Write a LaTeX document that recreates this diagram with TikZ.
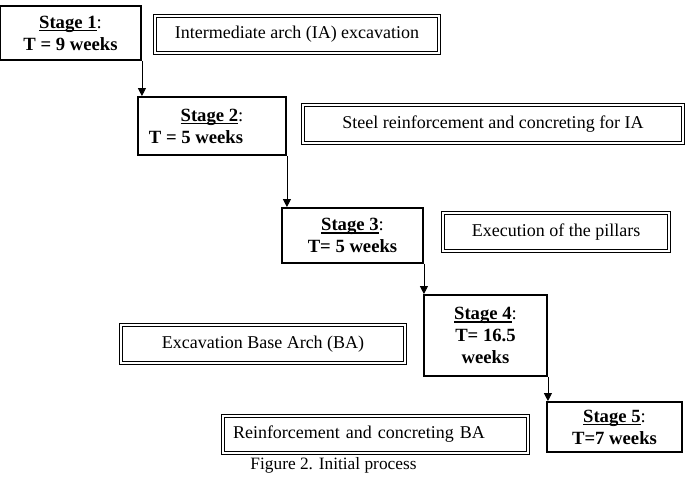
\documentclass[tikz,border=0pt]{standalone}
\usepackage{fontspec}
\setmainfont{Liberation Serif}
\usetikzlibrary{arrows.meta}
\newcommand\stageul[1]{\setbox0\hbox{#1}\rlap{\vrule width\wd0 height -1.3pt depth 2.2pt}\box0}

\begin{document}
\begin{tikzpicture}[x=0.75pt,y=-0.75pt,
  stage/.style={draw,line width=1.4pt,inner sep=0pt,align=center,font=\fontsize{14}{16.5}\selectfont\bfseries},
  task/.style={draw,line width=0.6pt,double=white,double distance=1.2pt,inner sep=0pt,align=center,font=\fontsize{13.5}{16}\selectfont}]
       \useasboundingbox (0,0) rectangle (689,478);
       \node[stage,minimum width=105.75pt,minimum height=40.5pt] (1) at (70.5,33) {\stageul{Stage 1}\textmd{:}\\T = 9 weeks};
       \node[stage,minimum width=111pt,minimum height=43.5pt] (2) at (212,126) {\stageul{Stage 2}\textmd{:}\\T = 5 weeks\rule{24pt}{0pt}};
       \node[stage,minimum width=105.75pt,minimum height=41.25pt] (3) at (352.5,235.5) {\stageul{Stage 3}\textmd{:}\\T= 5 weeks};
       \node[stage,minimum width=92.25pt,minimum height=60.75pt] (4) at (485.5,335.5) {\stageul{Stage 4}\textmd{:}\\T= 16.5\\weeks};
       \node[stage,minimum width=101.25pt,minimum height=37.5pt] (5) at (614.5,427) {\stageul{Stage 5}\textmd{:}\\T=7 weeks};

       \node[task,minimum width=213pt,minimum height=27.75pt] (ia) at (297,34.5) {Intermediate arch (IA) excavation};
       \node[task,minimum width=285pt,minimum height=28.5pt] (steel) at (493,124) {Steel reinforcement and concreting for IA};
       \node[task,minimum width=169.5pt,minimum height=28.5pt] (pillars) at (556,232) {Execution of the pillars};
       \node[task,minimum width=213pt,minimum height=28.5pt] (ba) at (263,344) {Excavation Base Arch (BA)};
       \node[task,align=left,inner xsep=7.5pt,text width=213.75pt,minimum height=27.75pt] (rba) at (375.5,434.5) {Reinforcement and concreting BA};

       \node[font=\fontsize{13}{15}\selectfont] (caption) at (333.5,465) {Figure 2. Initial process};

       \foreach \p/\q in {1/2,2/3,3/4,4/5}{ \draw[-{Triangle[width=6pt,length=6pt]},line width=0.6pt] (\p.south east) -- (\p.south east |- \q.north); }
     \end{tikzpicture}
\end{document}
